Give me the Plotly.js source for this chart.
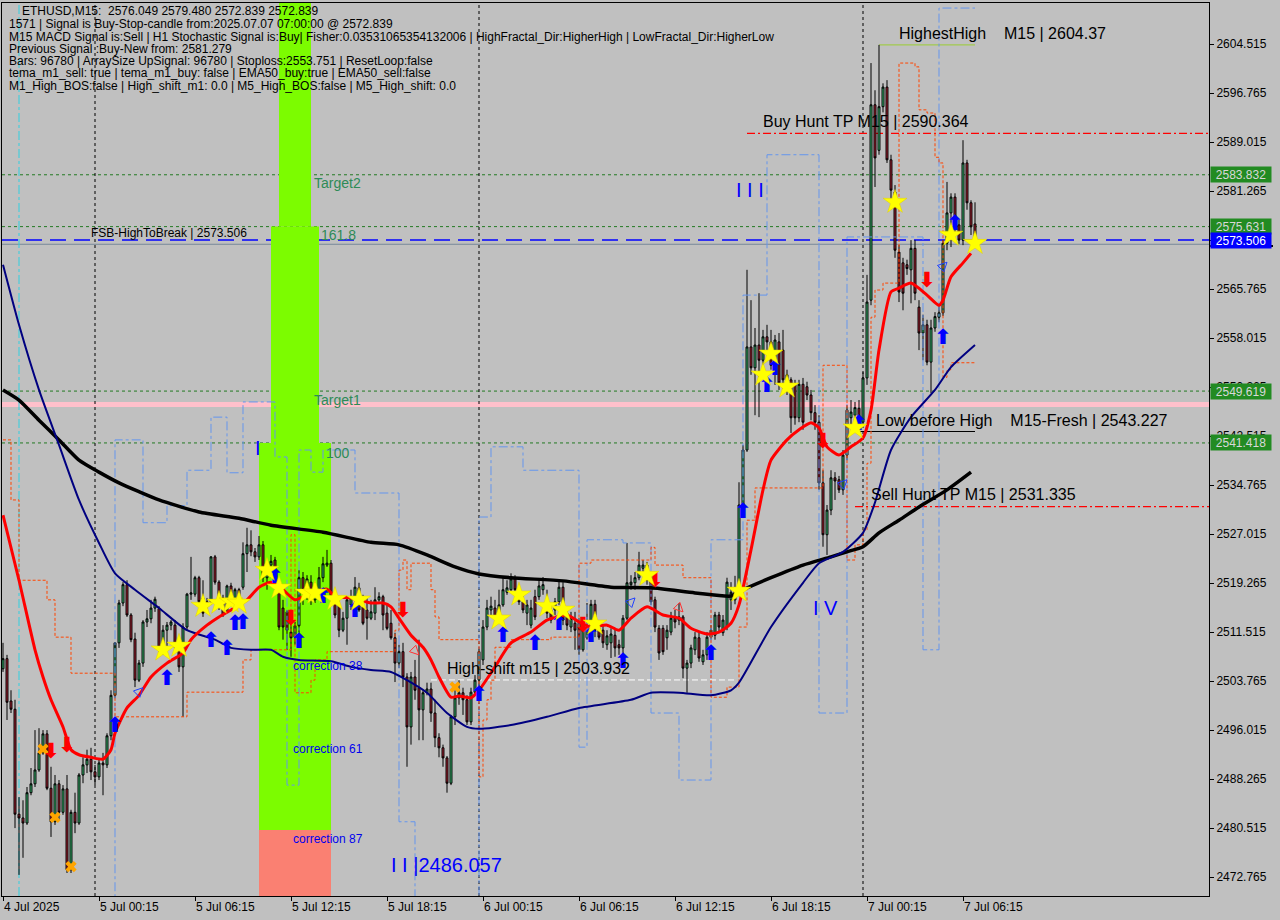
<!DOCTYPE html>
<html><head><meta charset="utf-8">
<script src="https://cdn.plot.ly/plotly-3.0.1.min.js"></script>
<style>html,body{margin:0;padding:0;background:#C0C0C0;}#chart{width:1280px;height:920px;}</style>
</head><body><div id="chart"></div>
<script>
// ---- OHLC (ETHUSD M15, 4 Jul 18:15 .. 7 Jul 07:00) ----
const opens = [
2505.7,2507.3,2500.6,2499.3,2482.7,2482.1,2481.3,2486.1,2487.5,2489.7,
2492.4,2495.4,2486.8,2481.5,2487.5,2483.0,2486.7,2473.9,2483.0,2481.3,
2488.9,2490.5,2491.4,2489.4,2488.6,2490.8,2490.5,2495.1,2501.5,2509.8,
2516.1,2519.0,2514.2,2510.4,2503.9,2506.6,2513.1,2513.6,2515.3,2515.2,
2509.1,2511.8,2512.6,2512.6,2509.1,2506.0,2512.3,2517.5,2517.5,2520.1,
2516.9,2516.3,2516.3,2523.4,2519.4,2516.9,2515.0,2518.8,2516.6,2518.2,
2518.6,2523.9,2525.3,2524.2,2523.4,2525.3,2520.1,2522.1,2522.9,2519.0,
2515.3,2514.7,2511.5,2510.7,2512.5,2520.1,2517.8,2519.4,2516.6,2518.2,
2520.1,2522.1,2522.4,2516.9,2515.8,2511.8,2513.7,2515.8,2517.1,2518.5,
2515.5,2515.0,2513.7,2514.5,2516.6,2517.1,2514.5,2512.9,2510.6,2506.6,
2508.4,2504.4,2496.5,2504.4,2502.7,2499.2,2501.9,2502.5,2498.7,2494.8,
2493.2,2491.6,2487.6,2498.1,2501.1,2501.9,2500.8,2497.3,2502.0,2503.9,
2507.1,2512.3,2515.0,2515.3,2513.9,2515.8,2517.8,2518.2,2519.9,2518.2,
2516.3,2514.5,2512.6,2517.1,2517.1,2518.2,2516.3,2515.0,2515.0,2516.3,
2518.6,2514.5,2512.3,2512.9,2512.9,2508.7,2510.6,2511.8,2515.9,2512.1,
2511.8,2509.5,2509.8,2511.0,2509.5,2509.0,2513.7,2519.0,2519.3,2520.1,
2521.6,2522.1,2520.1,2516.6,2512.1,2512.1,2510.6,2511.5,2513.7,2513.4,
2513.9,2505.8,2506.6,2508.7,2510.6,2506.8,2507.9,2510.7,2511.0,2514.2,
2511.4,2512.3,2516.6,2516.6,2518.2,2531.6,2540.3,2556.6,2553.3,2556.9,
2554.5,2558.2,2557.4,2553.7,2557.4,2556.1,2550.9,2551.4,2550.6,2545.4,
2550.7,2550.3,2549.0,2546.2,2544.7,2535.1,2526.9,2530.8,2535.9,2535.6,
2534.0,2539.5,2545.4,2545.8,2546.9,2544.7,2551.7,2564.0,2594.9,2587.7,
2594.6,2597.7,2586.2,2581.1,2571.6,2569.9,2569.6,2568.8,2572.2,2562.9,
2558.8,2560.1,2554.2,2559.6,2561.3,2562.0,2573.0,2577.8,2580.3,2575.9,
2573.5,2585.7,2579.4,2576.049];
const highs = [
2509.8,2507.9,2502.3,2500.8,2485.4,2484.9,2487.0,2490.0,2496.0,2496.3,
2496.0,2496.0,2490.2,2488.9,2488.1,2487.3,2488.9,2483.4,2486.1,2489.2,
2491.7,2492.9,2493.2,2490.5,2491.3,2492.4,2495.5,2502.3,2509.0,2516.6,
2519.4,2519.7,2514.5,2511.4,2507.1,2513.4,2515.0,2516.6,2517.1,2515.6,
2512.6,2513.1,2513.4,2513.4,2509.5,2512.9,2517.7,2523.4,2520.4,2520.4,
2519.7,2516.9,2523.5,2523.7,2519.7,2517.4,2519.0,2519.3,2518.5,2518.5,
2525.7,2528.0,2527.6,2524.8,2526.7,2525.9,2522.9,2523.7,2523.4,2519.7,
2516.6,2515.0,2515.0,2513.1,2521.3,2521.0,2520.5,2520.5,2519.4,2521.8,
2523.4,2524.5,2522.9,2518.2,2516.6,2514.7,2517.1,2518.2,2520.2,2519.3,
2517.4,2517.1,2516.6,2518.6,2517.8,2517.4,2515.8,2515.0,2511.4,2509.5,
2509.8,2505.0,2505.2,2507.1,2510.3,2502.3,2503.5,2503.5,2500.8,2495.5,
2493.7,2491.9,2498.4,2502.3,2503.9,2502.7,2501.5,2502.7,2504.7,2508.7,
2513.4,2516.6,2517.1,2516.6,2518.2,2520.1,2519.7,2520.8,2520.5,2519.0,
2517.4,2516.6,2516.6,2518.2,2519.7,2520.2,2518.2,2515.8,2516.9,2519.7,
2519.4,2515.3,2514.7,2514.7,2513.7,2513.4,2516.1,2516.6,2516.6,2513.4,
2512.6,2511.8,2512.1,2512.1,2510.3,2514.2,2525.6,2520.5,2521.0,2524.2,
2522.9,2522.6,2520.5,2517.1,2512.6,2512.6,2512.6,2514.7,2515.0,2516.1,
2514.2,2507.1,2509.5,2511.5,2511.5,2508.7,2511.5,2512.6,2514.7,2514.7,
2514.2,2520.1,2519.4,2520.4,2535.2,2541.1,2568.8,2564.0,2559.6,2565.1,
2559.3,2560.1,2559.3,2558.5,2558.8,2559.3,2553.0,2551.8,2551.4,2551.4,
2551.7,2551.1,2549.8,2547.4,2545.8,2537.1,2531.6,2537.1,2536.8,2536.2,
2540.3,2547.4,2548.2,2547.9,2548.2,2552.6,2568.0,2601.5,2597.2,2604.37,
2598.3,2598.8,2587.0,2582.2,2572.7,2570.7,2570.4,2573.5,2573.5,2564.0,
2561.7,2560.9,2560.9,2562.1,2563.2,2573.5,2582.7,2580.9,2580.9,2576.7,
2589.3,2586.2,2579.8,2579.48];
const lows = [
2505.2,2497.6,2498.7,2480.5,2473.1,2475.8,2481.0,2485.7,2487.0,2489.4,
2492.1,2486.5,2479.1,2481.0,2481.8,2482.6,2473.4,2473.4,2479.7,2481.0,
2487.6,2489.2,2488.1,2487.3,2488.1,2485.7,2490.0,2494.4,2501.1,2509.0,
2515.6,2513.9,2509.9,2502.8,2503.6,2506.0,2512.3,2512.9,2514.7,2507.6,
2507.9,2508.7,2511.8,2508.7,2505.2,2498.1,2511.8,2516.6,2517.1,2515.8,
2513.9,2514.7,2515.8,2519.0,2515.0,2513.9,2514.7,2515.8,2515.0,2515.5,
2518.2,2521.0,2523.5,2522.6,2522.9,2519.4,2518.2,2520.1,2518.2,2511.8,
2510.3,2508.7,2507.6,2509.5,2511.4,2515.8,2516.6,2515.8,2516.1,2517.7,
2519.4,2521.8,2516.1,2513.7,2510.7,2511.5,2509.5,2515.0,2515.5,2514.7,
2512.6,2510.3,2513.4,2513.4,2516.3,2511.8,2511.8,2510.3,2503.6,2505.8,
2502.8,2490.2,2493.7,2500.8,2494.4,2494.4,2501.5,2497.3,2493.3,2491.7,
2490.2,2486.1,2487.3,2496.8,2500.0,2498.4,2496.8,2496.8,2501.5,2503.1,
2506.3,2511.8,2514.2,2513.4,2513.4,2515.5,2517.4,2517.8,2517.7,2515.8,
2514.5,2512.6,2512.1,2513.4,2516.6,2517.4,2513.7,2512.9,2514.2,2515.8,
2512.6,2511.8,2511.5,2508.7,2507.9,2508.4,2510.3,2511.4,2510.7,2510.3,
2509.0,2508.7,2507.4,2507.6,2507.9,2507.1,2513.4,2518.2,2518.2,2519.7,
2520.5,2519.0,2515.8,2511.5,2507.1,2507.9,2508.7,2511.0,2512.1,2512.6,
2504.2,2501.9,2505.8,2507.9,2506.8,2506.3,2507.1,2510.3,2510.3,2511.5,
2510.9,2511.8,2515.0,2515.9,2517.4,2530.8,2540.0,2552.2,2545.8,2545.5,
2552.2,2556.1,2553.0,2550.6,2549.8,2549.8,2549.0,2543.0,2544.3,2544.7,
2543.5,2548.2,2545.0,2543.5,2534.0,2525.0,2523.7,2530.0,2532.4,2533.5,
2533.2,2538.7,2544.3,2544.7,2544.3,2544.3,2550.6,2563.2,2581.9,2587.0,
2593.7,2585.7,2579.8,2570.7,2563.7,2562.4,2568.0,2563.5,2564.0,2556.1,
2554.5,2553.7,2549.3,2559.0,2560.5,2561.5,2571.9,2572.4,2574.3,2572.9,
2572.7,2578.3,2574.3,2572.839];
const closes = [
2507.3,2500.4,2499.3,2482.7,2482.1,2481.3,2486.1,2487.5,2489.7,2492.4,
2495.4,2486.8,2481.5,2487.5,2483.0,2486.7,2473.9,2483.0,2481.3,2488.9,
2490.5,2491.4,2489.4,2488.6,2490.8,2490.5,2495.1,2501.5,2509.8,2516.1,
2519.0,2514.2,2510.3,2503.9,2506.6,2513.1,2513.6,2515.3,2516.7,2509.1,
2511.8,2512.6,2513.1,2509.1,2506.0,2512.3,2517.5,2517.7,2520.1,2516.3,
2514.5,2515.5,2523.4,2519.4,2515.8,2514.2,2518.8,2516.6,2518.2,2516.1,
2523.9,2525.3,2524.2,2523.4,2525.3,2520.1,2522.1,2522.7,2519.3,2512.3,
2512.3,2511.8,2510.6,2512.5,2520.1,2518.2,2519.9,2516.6,2518.5,2520.1,
2522.3,2522.4,2516.9,2514.2,2511.8,2513.7,2516.6,2517.1,2518.6,2515.0,
2512.9,2513.7,2514.7,2516.6,2517.1,2514.2,2512.1,2510.6,2506.6,2508.4,
2504.4,2496.5,2504.4,2502.3,2499.2,2501.9,2502.5,2498.7,2494.8,2493.2,
2491.6,2487.6,2498.1,2501.1,2501.9,2500.8,2497.3,2502.0,2503.9,2508.4,
2512.3,2515.3,2515.6,2513.9,2515.8,2518.2,2518.5,2519.9,2518.2,2516.3,
2515.0,2515.8,2515.3,2513.9,2518.8,2519.0,2514.5,2513.4,2516.3,2518.6,
2513.4,2512.6,2513.7,2511.8,2508.7,2511.8,2512.6,2515.9,2511.8,2510.7,
2509.8,2510.9,2511.2,2509.0,2509.0,2513.7,2519.3,2519.4,2520.1,2522.1,
2522.1,2519.7,2516.3,2512.3,2508.2,2508.4,2511.8,2513.7,2513.1,2513.9,
2505.8,2506.6,2509.0,2510.7,2507.4,2507.9,2510.7,2511.8,2514.2,2512.3,
2513.4,2519.4,2517.8,2518.5,2531.6,2540.3,2556.6,2553.3,2556.9,2554.5,
2558.2,2557.4,2553.7,2557.7,2550.9,2551.4,2552.2,2545.4,2545.4,2550.7,
2544.7,2549.0,2546.2,2544.7,2535.1,2526.9,2530.8,2535.9,2535.4,2534.0,
2539.5,2546.6,2546.3,2547.0,2545.0,2551.7,2563.7,2594.9,2586.5,2594.6,
2597.7,2586.2,2581.4,2571.9,2565.3,2565.1,2569.0,2572.2,2565.1,2558.8,
2560.1,2554.2,2559.6,2561.4,2562.0,2573.0,2577.8,2580.3,2575.6,2573.5,
2585.7,2579.4,2575.6,2572.839];
const barIdx = opens.map((_, i) => i);

// ---- time axis labels ----
const tickIdx = [0,24,48,72,96,120,144,168,192,216,240];
const tickLabels = ['4 Jul 2025','5 Jul 00:15','5 Jul 06:15','5 Jul 12:15','5 Jul 18:15','6 Jul 00:15','6 Jul 06:15','6 Jul 12:15','6 Jul 18:15','7 Jul 00:15','7 Jul 06:15'];
const dayStartIdx = [23,119,215];
const priceTicks = [2472.765,2480.515,2488.265,2496.015,2503.765,2511.515,2519.265,2527.015,2534.765,2542.515,2550.265,2558.015,2565.765,2573.515,2581.265,2589.015,2596.765,2604.515];

// ---- indicator lines ----
const redIdx = [0,4,8,10,12,15,17,19,22,25,27,28,31,34,37,41,45,47,51,54,57,61,64,67,70,73,76,81,83,87,92,95,97,99,102,105,107,109,112,114,117,119,123,127,132,136,141,144,147,151,154,157,161,165,169,172,176,179,182,184,187,190,192,196,199,202,204,206,209,212,215,217,219,222,224,227,231,234,235,237,240,242];
const redVal = [2530.0,2519.7,2508.7,2504.4,2500.8,2496.5,2492.9,2492.1,2491.7,2491.4,2492.9,2495.5,2499.5,2501.5,2504.4,2506.6,2508.2,2510.3,2512.6,2513.9,2515.0,2516.6,2518.6,2519.4,2518.2,2516.6,2517.4,2518.3,2517.1,2516.9,2516.1,2516.1,2515.5,2513.7,2511.0,2509.1,2507.1,2504.4,2501.2,2501.4,2501.1,2502.3,2506.0,2509.8,2511.5,2513.4,2514.2,2513.1,2512.3,2512.6,2511.8,2513.7,2515.5,2514.2,2513.7,2512.1,2511.2,2511.5,2512.9,2515.8,2524.5,2534.0,2538.7,2541.9,2543.5,2544.6,2543.8,2540.8,2539.5,2540.8,2542.2,2546.6,2556.1,2565.3,2565.9,2566.7,2564.8,2563.2,2564.0,2567.7,2569.9,2571.4];
const blackIdx = [0,4,9,14,19,24,29,34,39,49,59,67,80,92,99,106,113,119,127,140,152,162,173,182,184,192,200,207,211,215,219,224,229,236,242];
const blackVal = [2549.8,2548.2,2545.0,2541.9,2538.7,2536.8,2535.1,2533.7,2532.4,2530.5,2529.5,2528.4,2527.3,2525.7,2525.3,2523.7,2521.8,2520.7,2520.1,2519.6,2518.6,2518.5,2517.7,2517.2,2517.9,2520.1,2522.1,2523.4,2524.2,2525.0,2527.2,2529.2,2531.3,2534.0,2536.8];
const navyIdx = [0,4,9,14,19,24,28,33,39,46,53,57,62,67,70,74,82,87,92,97,101,106,111,116,119,127,136,144,157,162,169,177,182,184,192,200,204,210,215,218,222,227,233,237,243];
const navyVal = [2569.6,2560.1,2549.8,2541.1,2532.4,2525.6,2520.8,2518.2,2515.3,2511.8,2510.3,2509.0,2508.7,2508.7,2507.6,2507.1,2506.9,2506.0,2505.5,2505.2,2503.9,2501.9,2498.7,2496.5,2496.2,2496.8,2498.1,2499.5,2500.8,2501.9,2501.9,2501.5,2502.3,2503.5,2512.3,2519.3,2522.4,2524.2,2527.2,2532.0,2540.3,2545.5,2549.8,2553.4,2556.9];
const trailIdx = [0,2,4,11,13,17,28,46,60,62,72,73,77,78,81,98,99,100,101,102,107,108,109,119,120,121,122,123,127,137,144,147,162,163,170,177,181,184,186,188,205,211,213,215,216,217,218,220,224,228,229,231,233,234,235,236,237,243];
const trailVal = [2541.9,2532.4,2519.7,2516.6,2510.7,2505.0,2498.1,2502.0,2507.1,2508.7,2526.9,2501.9,2503.9,2507.1,2508.4,2511.8,2521.3,2522.9,2518.2,2522.4,2518.2,2513.9,2510.3,2488.6,2497.6,2500.8,2503.9,2509.1,2510.3,2510.7,2522.4,2522.9,2524.9,2522.1,2520.1,2501.2,2502.8,2512.3,2529.2,2534.3,2553.7,2522.9,2525.3,2527.6,2538.2,2561.3,2565.6,2566.7,2601.5,2600.9,2594.1,2593.6,2586.6,2585.7,2551.8,2553.0,2554.1,2554.1];
const bandIdx = [27,28,35,41,46,52,56,60,68,71,74,77,80,88,99,103,119,122,130,144,146,155,162,169,177,185,191,204,211,230,234,243];
const bandVal = [2468.3,2541.9,2528.8,2531.5,2537.1,2545.5,2536.7,2547.9,2539.2,2487.3,2540.3,2536.8,2540.3,2533.5,2481.5,2468.3,2529.7,2540.8,2537.1,2493.3,2526.1,2525.6,2498.7,2488.1,2526.1,2564.8,2587.0,2498.7,2574.0,2508.7,2610.2,2610.2];

// ---- signal marks ----
const starIdx = [40,44,50,54,57,59,66,69,76,78,83,89,124,129,136,140,148,161,184,190,192,196,213,223,237,243];
const starPrice = [2508.7,2509.3,2515.6,2516.1,2516.3,2516.1,2521.3,2518.5,2517.7,2517.7,2516.7,2516.6,2513.6,2517.4,2515.6,2515.0,2512.8,2520.5,2518.0,2552.2,2555.5,2550.3,2543.8,2579.5,2574.3,2573.0];
const upIdx = [28,41,52,56,58,60,68,74,80,88,119,125,133,139,147,155,177,185,191,193,214,235,238];
const upPrice = [2496.5,2503.9,2510.0,2508.7,2512.6,2512.8,2520.1,2509.8,2516.9,2514.7,2501.5,2510.7,2509.5,2512.6,2510.7,2506.6,2507.9,2530.3,2550.3,2553.0,2544.3,2557.9,2575.9];
const dnIdx = [12,16,72,100,145,163,205,231];
const dnPrice = [2492.4,2493.3,2513.4,2514.7,2512.3,2519.4,2541.4,2566.9];
const crossIdx = [10,13,17,113];
const crossPrice = [2493.0,2482.2,2474.4,2502.8];
const hUpIdx = [35,158,211,236];
const hUpPrice = [2502.7,2516.9,2535.6,2570.0];
const hDnIdx = [104,170];
const hDnPrice = [2507.9,2514.7];

// ---- levels ----
const targetLevels = [2583.832,2575.631,2549.619,2541.418];
const fsbLevel = 2573.506, bidPrice = 2572.839, pinkLevel = 2547.5;
const buyTP = 2590.364, sellTP = 2531.335, lowBeforeHigh = 2543.227, highestHigh = 2604.37, highShift = 2503.932;
const zoneTop = 2611.0, zone1618 = 2575.631, zone100 = 2541.418, zone87 = 2480.2;

const FONT = 'Liberation Sans, Arial, sans-serif';
const traces = [
  {type:'scatter', mode:'lines', x:bandIdx, y:bandVal, line:{color:'#6495ED', width:1, dash:'dashdot', shape:'hv'}, hoverinfo:'skip'},
  {type:'scatter', mode:'lines', x:trailIdx, y:trailVal, line:{color:'#FF4500', width:1, dash:'3px,2px', shape:'hv'}, hoverinfo:'skip'},
  {type:'candlestick', x:barIdx, open:opens, high:highs, low:lows, close:closes, whiskerwidth:0,
   increasing:{line:{color:'#000000', width:1}, fillcolor:'#3CC878'},
   decreasing:{line:{color:'#000000', width:1}, fillcolor:'#B22234'}, hoverinfo:'skip'},
  {type:'scatter', mode:'lines', x:blackIdx, y:blackVal, line:{color:'#000000', width:3.5, shape:'spline', smoothing:0.6}, hoverinfo:'skip'},
  {type:'scatter', mode:'lines', x:navyIdx, y:navyVal, line:{color:'#000080', width:2, shape:'spline', smoothing:0.6}, hoverinfo:'skip'},
  {type:'scatter', mode:'lines', x:redIdx, y:redVal, line:{color:'#FF0000', width:3, shape:'spline', smoothing:0.6}, hoverinfo:'skip'},
  {type:'scatter', mode:'markers', x:crossIdx, y:crossPrice, marker:{symbol:'x', size:10, color:'#FFA500'}, hoverinfo:'skip'},
  {type:'scatter', mode:'markers', x:hUpIdx, y:hUpPrice, marker:{symbol:'arrow-up-open', angle:45, size:9, color:'#2040FF', line:{width:1, color:'#2040FF'}}, hoverinfo:'skip'},
  {type:'scatter', mode:'markers', x:hDnIdx, y:hDnPrice, marker:{symbol:'arrow-down-open', angle:-45, size:9, color:'#FF3030', line:{width:1, color:'#FF3030'}}, hoverinfo:'skip'},
  {type:'scatter', mode:'text', x:upIdx, y:upPrice, text:upIdx.map(() => '\u2B06'), textposition:'middle center', textfont:{family:'DejaVu Sans', size:21, weight:'bold', color:'#0000FF'}, hoverinfo:'skip'},
  {type:'scatter', mode:'text', x:dnIdx, y:dnPrice, text:dnIdx.map(() => '\u2B07'), textposition:'middle center', textfont:{family:'DejaVu Sans', size:21, weight:'bold', color:'#FF0000'}, hoverinfo:'skip'},
  {type:'scatter', mode:'markers', x:starIdx, y:starPrice, marker:{symbol:'star', size:18, color:'#FFFF00', line:{width:0.5, color:'#E0D000'}}, hoverinfo:'skip'}
];

const shapes = [];
shapes.push({type:'line', xref:'paper', x0:0, x1:1, yref:'y', y0:pinkLevel, y1:pinkLevel, line:{color:'#FFC0CB', width:5}, layer:'below'});
shapes.push({type:'rect', xref:'x', x0:64, x1:82, yref:'y', y0:zone87, y1:zone100, fillcolor:'#7CFC00', line:{width:0}, layer:'below'});
shapes.push({type:'rect', xref:'x', x0:67, x1:79, yref:'y', y0:zone100, y1:zone1618, fillcolor:'#7CFC00', line:{width:0}, layer:'below'});
shapes.push({type:'rect', xref:'x', x0:69, x1:77, yref:'y', y0:zone1618, y1:zoneTop, fillcolor:'#7CFC00', line:{width:0}, layer:'below'});
shapes.push({type:'rect', xref:'x', x0:64, x1:82, yref:'y', y0:2460, y1:zone87, fillcolor:'#FA8072', line:{width:0}, layer:'below'});
targetLevels.forEach(v => shapes.push({type:'line', xref:'paper', x0:0, x1:1, yref:'y', y0:v, y1:v, line:{color:'#237A23', width:1, dash:'3px,3px'}, layer:'below'}));
shapes.push({type:'line', xref:'paper', x0:0, x1:1, yref:'y', y0:fsbLevel, y1:fsbLevel, line:{color:'#0000FF', width:1.5, dash:'16px,8px'}, layer:'below'});
shapes.push({type:'line', xref:'paper', x0:0, x1:1, yref:'y', y0:bidPrice, y1:bidPrice, line:{color:'#778899', width:1}, layer:'below'});
shapes.push({type:'line', xref:'x', x0:186, x1:301.5, yref:'y', y0:buyTP, y1:buyTP, line:{color:'#FF0000', width:1.2, dash:'8px,3px,2px,3px'}, layer:'below'});
shapes.push({type:'line', xref:'x', x0:213, x1:301.5, yref:'y', y0:sellTP, y1:sellTP, line:{color:'#FF0000', width:1.2, dash:'8px,3px,2px,3px'}, layer:'below'});
shapes.push({type:'line', xref:'x', x0:212.5, x1:243, yref:'y', y0:lowBeforeHigh, y1:lowBeforeHigh, line:{color:'#000000', width:1}, layer:'below'});
shapes.push({type:'line', xref:'x', x0:219, x1:243, yref:'y', y0:highestHigh, y1:highestHigh, line:{color:'#9ACD32', width:1}, layer:'below'});
shapes.push({type:'line', xref:'x', x0:107, x1:183, yref:'y', y0:highShift, y1:highShift, line:{color:'#FFFFFF', width:1, dash:'6px,3px'}, layer:'below'});
dayStartIdx.forEach(d => shapes.push({type:'line', xref:'x', x0:d, x1:d, yref:'paper', y0:0, y1:1, line:{color:'#000000', width:1, dash:'3px,3px'}, layer:'below'}));
shapes.push({type:'line', xref:'x', x0:4, x1:4, yref:'paper', y0:0, y1:1, line:{color:'#30D0E0', width:1, dash:'dashdot'}, layer:'below'});
shapes.push({type:'line', xref:'paper', x0:1.001, x1:1.053, yref:'y', y0:2572.55, y1:2572.55, line:{color:'#000000', width:2}});

const ann = [];
function px(xp){return (xp-2)/1207;}
function py(yp){return 1-(yp-3)/893;}
const header = [
  [20,11,'ETHUSD,M15:  2576.049 2579.480 2572.839 2572.839'],
  [7,24,'1571 | Signal is Buy-Stop-candle from:2025.07.07 07:00:00 @ 2572.839'],
  [7,37,'M15 MACD Signal is:Sell | H1 Stochastic Signal is:Buy| Fisher:0.03531065354132006 | HighFractal_Dir:HigherHigh | LowFractal_Dir:HigherLow'],
  [7,49,'Previous Signal :Buy-New from: 2581.279'],
  [7,61,'Bars: 96780 | ArraySize UpSignal: 96780 | Stoploss:2553.751 | ResetLoop:false'],
  [7,73,'tema_m1_sell: true | tema_m1_buy: false | EMA50_buy:true | EMA50_sell:false'],
  [7,86,'M1_High_BOS:false | High_shift_m1: 0.0 | M5_High_BOS:false | M5_High_shift: 0.0']
];
header.forEach(h => ann.push({xref:'paper', yref:'paper', x:px(h[0]), y:py(h[1]), xanchor:'left', yanchor:'middle', text:h[2], showarrow:false, font:{family:FONT, size:12, color:'#000000'}}));

function t(x, y, text, size, color){ ann.push({xref:'x', yref:'y', x:x, y:y, xanchor:'left', yanchor:'middle', text:text, showarrow:false, font:{family:FONT, size:size, color:color}}); }
const NB = '\u00A0';
t(223.5, 2606.25, 'HighestHigh'+NB+NB+NB+NB+'M15 | 2604.37', 16, '#000000');
t(189.5, 2592.2, 'Buy Hunt TP M15 | 2590.364', 16, '#000000');
t(217.8, 2545.0, 'Low before High'+NB+NB+NB+NB+'M15-Fresh | 2543.227', 16, '#000000');
t(216.5, 2533.2, 'Sell Hunt TP M15 | 2531.335', 16, '#000000');
t(110.5, 2505.8, 'High-shift m15 | 2503.932', 16, '#000000');
t(21.5, 2574.7, 'FSB-HighToBreak | 2573.506', 12, '#000000');
t(77.3, 2582.5, 'Target2', 14, '#2E8B57');
t(79.0, 2574.3, '161.8', 14, '#2E8B57');
t(77.3, 2548.2, 'Target1', 14, '#2E8B57');
t(80.3, 2539.9, '100', 14, '#2E8B57');
t(72.0, 2506.1, 'correction 38', 12, '#0000EE');
t(72.0, 2493.0, 'correction 61', 12, '#0000EE');
t(72.0, 2478.8, 'correction 87', 12, '#0000EE');
t(62.5, 2540.6, 'I', 20, '#0000FF');
t(182.7, 2581.4, 'I I I', 20, '#0000FF');
t(202.0, 2515.3, 'I V', 20, '#0000FF');
t(96.5, 2474.7, 'I I |2486.057', 20, '#0000FF');

const boxes = [[2583.832,'#228B22','#D8D8D8'],[2575.631,'#228B22','#D8D8D8'],[2549.619,'#228B22','#D8D8D8'],[2541.418,'#228B22','#D8D8D8'],[fsbLevel,'#0000FF','#FFFFFF']];
boxes.forEach(b => ann.push({xref:'paper', yref:'y', x:1, xshift:1, y:b[0], xanchor:'left', yanchor:'middle', text:b[0].toFixed(3), showarrow:false, bgcolor:b[1], width:58, height:13, borderpad:1, font:{family:FONT, size:12, color:b[2]}}));

const layout = {
  width:1280, height:920,
  paper_bgcolor:'#C0C0C0', plot_bgcolor:'#C0C0C0',
  margin:{l:2, r:71, t:3, b:24},
  showlegend:false,
  xaxis:{type:'linear', range:[-0.25, 301.5], tickvals:tickIdx, ticktext:tickLabels, ticks:'outside', ticklen:4, tickcolor:'#000000',
         ticklabelposition:'outside right', tickfont:{family:FONT, size:12, color:'#000000'},
         showline:true, linecolor:'#000000', linewidth:1, mirror:true, showgrid:false, zeroline:false, rangeslider:{visible:false}, fixedrange:true},
  yaxis:{side:'right', range:[2469.76, 2611.0], tickvals:priceTicks, ticktext:priceTicks.map(v => v.toFixed(3)), ticks:'outside', ticklen:4, tickcolor:'#000000',
         tickfont:{family:FONT, size:12, color:'#000000'}, showline:true, linecolor:'#000000', linewidth:1, mirror:true, showgrid:false, zeroline:false, fixedrange:true},
  shapes:shapes, annotations:ann
};
Plotly.newPlot('chart', traces, layout, {staticPlot:true, displayModeBar:false});
</script></body></html>
